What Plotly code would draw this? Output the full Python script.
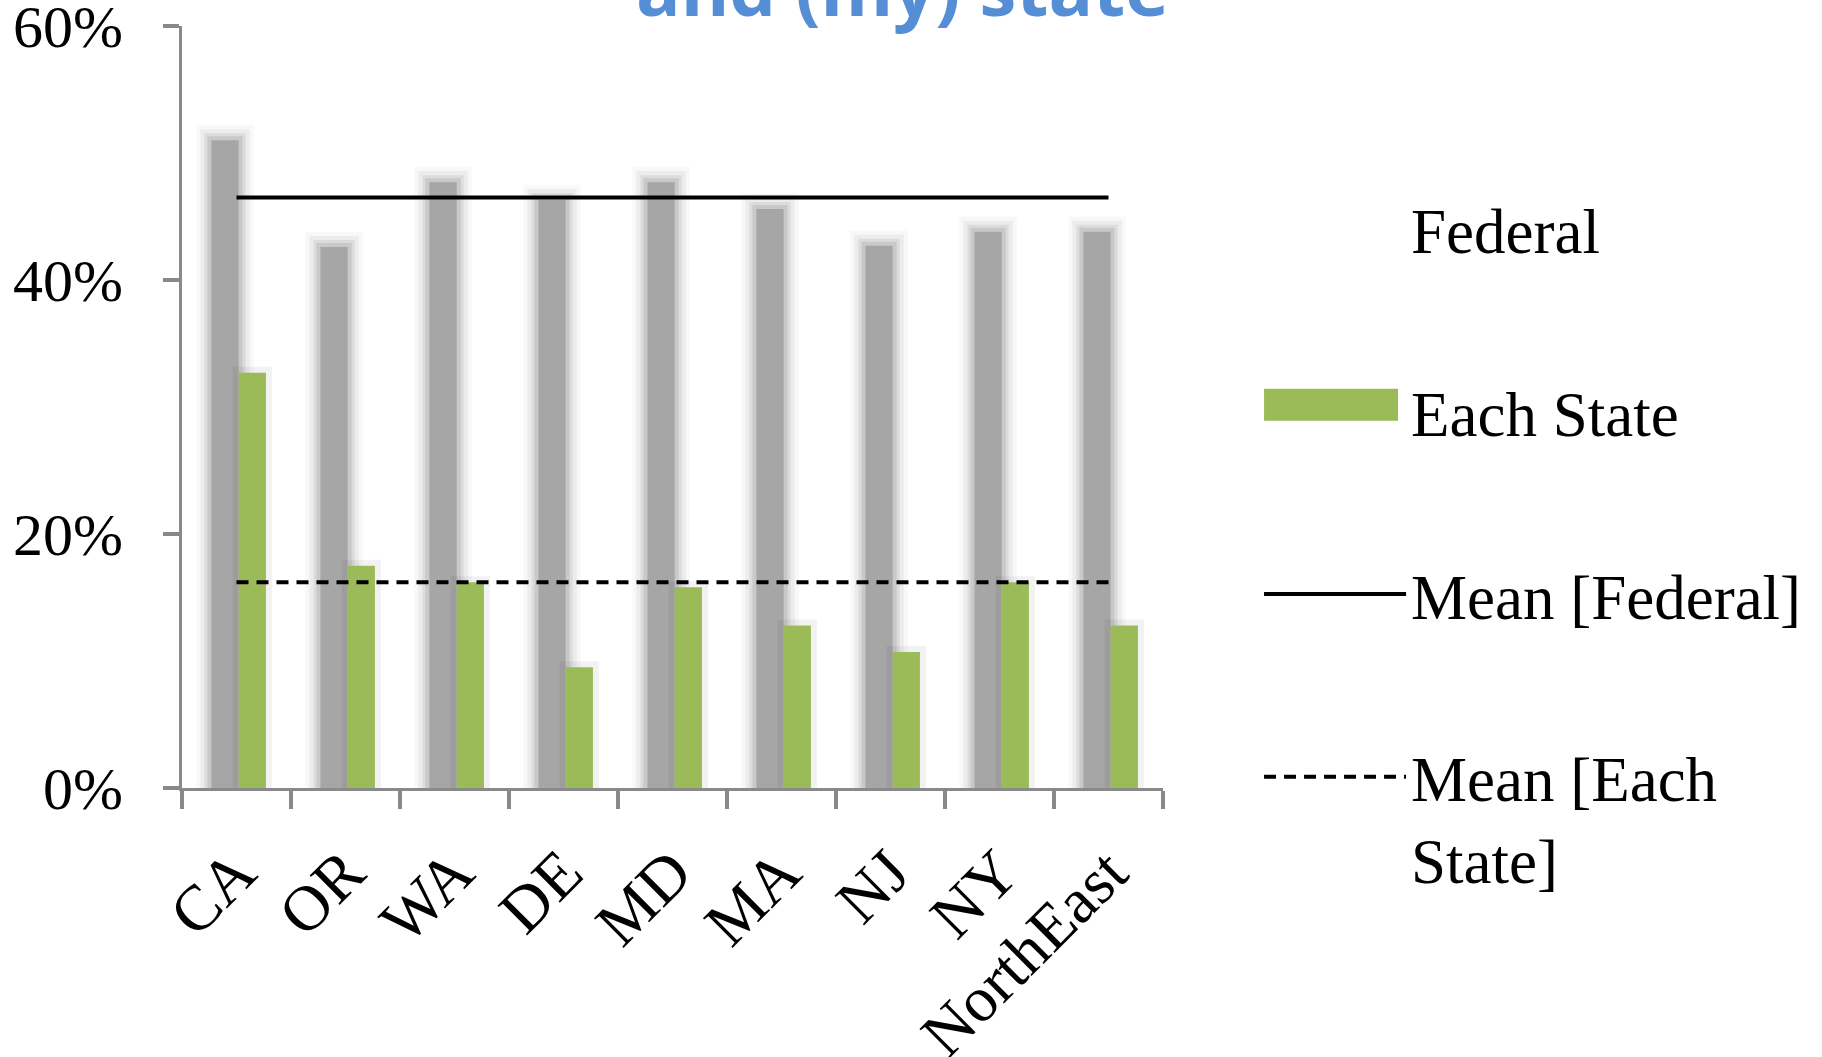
import plotly.graph_objects as go

# ---------------- data ----------------
categories = ["CA", "OR", "WA", "DE", "MD", "MA", "NJ", "NY", "NorthEast"]
federal = [0.510, 0.426, 0.477, 0.463, 0.477, 0.456, 0.427, 0.438, 0.438]
each_state = [0.327, 0.175, 0.162, 0.095, 0.158, 0.128, 0.107, 0.162, 0.128]
mean_federal = [0.465, 0.465, 0.465, 0.465, 0.465, 0.465, 0.465, 0.465, 0.465]
mean_each_state = [0.162, 0.162, 0.162, 0.162, 0.162, 0.162, 0.162, 0.162, 0.162]
y_tick_values = [0.0, 0.2, 0.4, 0.6]
y_tick_labels = ["0%", "20%", "40%", "60%"]
title_text = "and (my) state"

# ---------------- styles ----------------
GRAY = "#A6A6A6"
GREEN = "#9BBB59"
AXIS = "#898989"
SERIF = "Liberation Serif, Times New Roman, serif"
BAR_W = 0.25
GRAY_OFF = -0.23
GREEN_OFF = 0.02

fig = go.Figure()

# soft glow around the Federal bars (same data, translucent outlines)
for lw, alpha in [(30, 0.08), (22, 0.12), (14, 0.20), (8, 0.30)]:
    fig.add_trace(go.Bar(
        x=categories, y=federal, width=BAR_W, offset=GRAY_OFF,
        marker=dict(color="rgba(0,0,0,0)",
                    line=dict(color=f"rgba(160,160,160,{alpha})", width=lw)),
        showlegend=False, hoverinfo="skip"))

fig.add_trace(go.Bar(
    x=categories, y=federal, width=BAR_W, offset=GRAY_OFF, name="Federal",
    marker=dict(color=GRAY, line=dict(width=0)), showlegend=False))

# faint shadow of the green bars
fig.add_trace(go.Bar(
    x=categories, y=each_state, width=BAR_W, offset=GREEN_OFF,
    marker=dict(color="rgba(0,0,0,0)", line=dict(color="rgba(0,0,0,0.05)", width=12)),
    showlegend=False, hoverinfo="skip"))

fig.add_trace(go.Bar(
    x=categories, y=each_state, width=BAR_W, offset=GREEN_OFF, name="Each State",
    marker=dict(color=GREEN, line=dict(width=0)), showlegend=False))

# legend entries for the bar series
fig.add_trace(go.Scatter(
    x=[None], y=[None], mode="lines", name="Federal",
    line=dict(color="rgba(0,0,0,0)", width=1), legendgroup="g1", legendrank=1))
fig.add_trace(go.Scatter(
    x=[None], y=[None], mode="lines", name="Each State",
    line=dict(color="rgba(0,0,0,0)", width=1), legendgroup="g2", legendrank=2))

# mean lines
fig.add_trace(go.Scatter(
    x=categories, y=mean_federal, mode="lines", name="Mean [Federal]",
    line=dict(color="black", width=4), legendgroup="g3", legendrank=3))
fig.add_trace(go.Scatter(
    x=categories, y=mean_each_state, mode="lines", name="Mean [Each<br>State]",
    line=dict(color="black", width=4, dash="12px,8px"), legendgroup="g4", legendrank=4))

# legend swatch for "Each State" (wide green band like the original)
fig.add_shape(type="rect", xref="paper", yref="paper",
              x0=1.1030, x1=1.2396, y0=0.482, y1=0.524,
              fillcolor=GREEN, line=dict(width=0), layer="above")

fig.add_annotation(
    text=f"<b>{title_text}</b>", xref="paper", yref="paper",
    x=0.734, y=0.982, xanchor="center", yanchor="bottom", showarrow=False,
    font=dict(family="Open Sans, sans-serif", size=74, color="#558ED5"))

fig.update_layout(
    width=1822, height=1057,
    margin=dict(l=182, r=659, t=26, b=269, autoexpand=False),
    barmode="overlay",
    plot_bgcolor="white", paper_bgcolor="white",
    font=dict(family=SERIF, color="black"),
    legend=dict(
        x=1.0979, xanchor="left", y=0.797, yanchor="top",
        font=dict(family=SERIF, size=63, color="black"),
        itemwidth=142, tracegroupgap=98, valign="top",
        bgcolor="rgba(0,0,0,0)", traceorder="grouped"),
    xaxis=dict(
        type="category", showline=True, linecolor=AXIS, linewidth=3,
        ticks="outside", tickson="boundaries", ticklen=18, tickwidth=4, tickcolor=AXIS,
        tickangle=-45, tickfont=dict(family=SERIF, size=64, color="black"),
        ticklabelstandoff=18, showgrid=False, zeroline=False, automargin=False,
        ticklabeloverflow="allow"),
    yaxis=dict(
        range=[0, 0.6], showline=True, linecolor=AXIS, linewidth=3,
        ticks="outside", ticklen=16, tickwidth=4, tickcolor=AXIS,
        tickvals=y_tick_values, ticktext=y_tick_labels,
        tickfont=dict(family=SERIF, size=60, color="black"),
        ticklabelstandoff=28, showgrid=False, zeroline=False, automargin=False,
        ticklabeloverflow="allow"),
)

fig.write_html("out.html")
